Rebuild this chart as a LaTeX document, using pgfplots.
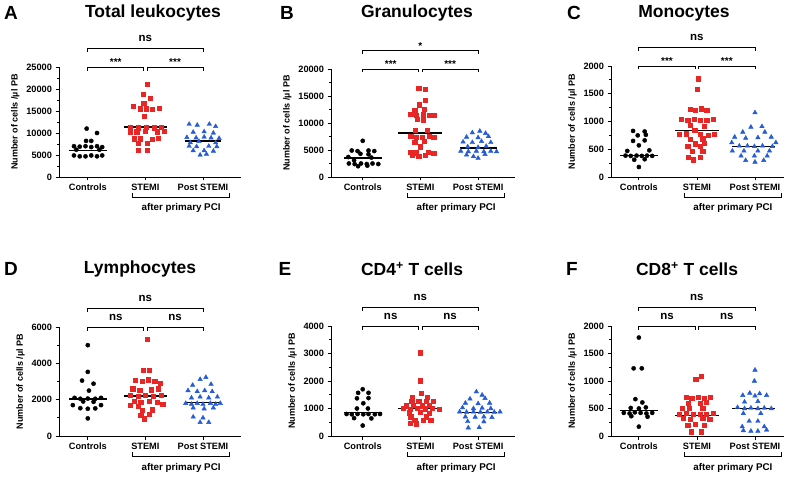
\documentclass[border=0pt]{standalone}
\usepackage{fontspec}
\setmainfont{Liberation Sans}
\usepackage{pgfplots}
\pgfplotsset{compat=1.18}
\definecolor{ptred}{RGB}{232,38,38}
\definecolor{ptblue}{RGB}{38,92,214}

\pgfplotsset{
  panel/.style={
    scale only axis, anchor=south west, clip=false,
    axis lines=left, axis line style={-, line width=0.9pt},
    ymin=0, minor y tick num=1,
    xtick={0,1,2}, xticklabels={Controls,STEMI,Post STEMI},
    tick align=outside, major tick length=3.5pt, minor tick length=2pt,
    every tick/.style={black, line width=0.8pt},
    ticklabel style={font=\fontsize{9.2}{10}\selectfont\bfseries},
    /pgf/number format/assume math mode=true,
    /pgf/number format/set thousands separator={},
    scaled y ticks=false,
    ylabel={Number of cells /µl PB},
    ylabel style={font=\fontsize{9}{10}\selectfont\bfseries},
  },
  ctrl/.style={only marks, mark=*, mark size=2.1pt, black},
  stemi/.style={only marks, mark=square*, mark size=2.1pt, ptred},
  post/.style={only marks, mark=triangle*, mark size=2.6pt, ptblue},
  med/.style={black, line width=1.3pt, no marks},
}
\tikzset{
  nsl/.style={font=\fontsize{11.5}{12}\selectfont\bfseries, yshift=6.5pt},
  astl/.style={font=\fontsize{10}{12}\selectfont\bfseries, yshift=1.5pt},
}
% bracket: x1, x2, y (data), label x, label, label style
\newcommand{\brk}[6]{%
  \draw[line width=0.8pt] ([yshift=-3.5pt]axis cs:#1,#3) -- (axis cs:#1,#3)
    -- (axis cs:#2,#3) -- ([yshift=-3.5pt]axis cs:#2,#3);
  \node[anchor=base, inner sep=0pt, #6] at (axis cs:#4,#3) {#5};}
\newcommand{\pci}{%
  \draw[line width=0.8pt] ([yshift=-16pt]axis cs:0.78,0) -- ([yshift=-20pt]axis cs:0.78,0)
    -- ([yshift=-20pt]axis cs:2.46,0) -- ([yshift=-16pt]axis cs:2.46,0);
  \node[anchor=base, inner sep=0pt, font=\fontsize{9.8}{11}\selectfont\bfseries]
    at ([yshift=-34pt]axis cs:1.62,0) {after primary PCI};}

\begin{document}
\begin{tikzpicture}
\path[use as bounding box] (0pt,0pt) rectangle (787pt,477pt);

% titles and panel letters
\tikzset{ttl/.style={font=\fontsize{17.5}{20}\selectfont\bfseries},
         let/.style={font=\fontsize{19}{20}\selectfont\bfseries}}
\node[let] at (11pt,464pt) {A};  \node[ttl] at (153pt,464pt) {Total leukocytes};
\node[let] at (287pt,464pt) {B}; \node[ttl] at (417pt,464pt) {Granulocytes};
\node[let] at (574pt,464pt) {C}; \node[ttl] at (684pt,464pt) {Monocytes};
\node[let] at (11pt,208pt) {D};  \node[ttl] at (140pt,208pt) {Lymphocytes};
\node[let] at (285pt,208pt) {E}; \node[ttl] at (412pt,208pt) {CD4\textsuperscript{+} T cells};
\node[let] at (572pt,208pt) {F}; \node[ttl] at (687pt,208pt) {CD8\textsuperscript{+} T cells};

% ---------- A
\begin{axis}[panel, at={(59pt,300pt)}, width=182pt, height=110pt,
  xmin=-0.5, xmax=2.66, ymax=25000, ytick={0,5000,...,25000}]
\addplot[ctrl] coordinates {(-0.02,11000) (0.16,10000) (-0.03,8200) (0.06,8200)
 (-0.24,7000) (-0.14,6900) (-0.04,7000) (0.06,6800) (0.16,7000) (0.25,6800)
 (-0.2,6200) (0.2,6200)
 (-0.24,4900) (-0.14,4700) (-0.04,4700) (0.06,4900) (0.16,4700) (0.25,4900)};
\addplot[stemi] coordinates {(1.03,21000) (0.96,18900) (1.08,17900) (0.97,16700)
 (0.79,16000) (0.91,15500) (1.01,15500) (1.12,15400) (1.24,15600)
 (0.98,13800)
 (0.73,11200) (0.88,11200) (1.02,11400) (1.15,11200) (1.28,11300)
 (0.74,10300) (0.85,10300) (1.0,10400) (1.2,10300) (1.32,10400)
 (0.8,8700) (0.91,8700) (1.12,8600) (1.22,8800)
 (0.87,7600) (1.03,7600) (0.87,6100) (1.03,6100)};
\addplot[post] coordinates {(1.76,12000) (1.9,11800) (2.11,12000) (2.22,11500)
 (1.83,10200) (2.02,10300) (2.18,10000)
 (1.72,9000) (1.88,8900) (2.02,9100) (2.14,8900) (2.28,8800)
 (1.78,7800) (1.93,8100) (2.22,7800)
 (1.76,7000) (1.89,6900) (2.1,7000) (2.24,6900)
 (1.83,6000) (2.02,6000) (2.18,5900) (1.95,5000) (2.06,5200)};
\addplot[med] coordinates {(-0.33,6060) (0.33,6060)};
\addplot[med] coordinates {(0.62,11360) (1.38,11360)};
\addplot[med] coordinates {(1.68,8180) (2.32,8180)};
\brk{0}{0.97}{25000}{0.485}{***}{astl}
\brk{1.03}{2}{25000}{1.515}{***}{astl}
\brk{0}{2}{29250}{1}{ns}{nsl}
\pci
\end{axis}

% ---------- B
\begin{axis}[panel, at={(331pt,300pt)}, width=184pt, height=108pt,
  xmin=-0.55, xmax=2.64, ymax=20000, ytick={0,5000,...,20000}]
\addplot[ctrl] coordinates {(0,6700)
 (-0.19,4900) (-0.09,4800) (0.1,4900) (0.2,4800)
 (-0.04,4300) (0.1,4200) (-0.25,3700) (0.15,3600)
 (-0.24,2500) (-0.14,2400) (-0.03,2500) (0.07,2400) (0.17,2500) (0.27,2400)
 (-0.08,2000) (0.08,2100) (-0.15,3100)};
\addplot[stemi] coordinates {(0.97,16400) (1.09,16200) (1.08,14200) (0.98,13400)
 (0.9,12400) (1.06,12500)
 (0.83,11600) (0.93,11500) (1.05,11600) (1.15,11400) (1.23,11500)
 (0.94,10700) (1.05,10600) (0.91,8700) (1.12,8700)
 (0.83,7500) (0.93,7400) (1.03,7300) (1.15,7500) (1.23,7300)
 (0.9,6400) (1.06,6600) (1.0,5600)
 (0.83,4600) (0.93,4500) (1.14,4600) (1.23,4400)
 (0.86,4000) (0.97,3900) (1.09,4000)};
\addplot[post] coordinates {(2.03,8500) (1.9,8200) (2.13,8100)
 (1.8,7400) (2.0,7300) (2.18,7500)
 (1.74,6500) (1.9,6400) (2.06,6600) (2.22,6400)
 (1.82,5600) (2.0,5500) (2.14,5700)
 (1.7,4800) (1.83,4700) (1.97,4800) (2.1,4700) (2.22,4800) (2.32,4700)
 (1.8,4100) (2.12,4200) (2.0,3500) (1.92,3800)};
\addplot[med] coordinates {(-0.33,3530) (0.33,3530)};
\addplot[med] coordinates {(0.62,8170) (1.38,8170)};
\addplot[med] coordinates {(1.68,5385) (2.32,5385)};
\brk{0}{0.97}{20000}{0.485}{***}{astl}
\brk{1.03}{2}{20000}{1.515}{***}{astl}
\brk{0}{2}{23400}{1}{*}{astl}
\pci
\end{axis}

% ---------- C
\begin{axis}[panel, at={(611pt,300pt)}, width=173pt, height=111pt,
  xmin=-0.48, xmax=2.5, ymax=2000, ytick={0,500,...,2000}]
\addplot[ctrl] coordinates {(-0.1,830) (0.1,820) (-0.02,750) (0.12,760)
 (-0.1,650) (0.1,660) (0.0,570) (-0.2,470) (0.18,480)
 (-0.23,385) (-0.14,380) (-0.04,385) (0.05,380) (0.14,385) (0.23,380)
 (-0.08,310) (0.1,320) (0.0,180)};
\addplot[stemi] coordinates {(1.02,1770) (1.01,1580)
 (0.88,1220) (0.97,1200) (1.07,1230) (1.17,1200)
 (0.73,1040) (0.84,1030) (0.95,1040) (1.06,1020) (1.17,1030) (1.28,1040)
 (0.88,930) (1.12,920) (0.96,850)
 (0.7,770) (0.81,780) (1.06,770) (1.2,760) (1.3,770)
 (0.88,680) (1.1,690) (0.97,600) (1.12,610)
 (0.84,550) (1.05,560) (0.92,470) (1.1,470)
 (0.85,360) (1.05,350) (0.93,310)};
\addplot[post] coordinates {(2.0,1160) (1.93,900) (2.12,910) (1.79,810) (2.17,810)
 (1.65,720) (1.84,700) (2.05,710) (2.28,720)
 (1.6,620) (2.36,620)
 (1.73,560) (1.87,560) (1.99,550) (2.13,560) (2.3,550)
 (1.61,470) (1.81,470) (2.05,470) (2.25,470)
 (1.76,380) (1.99,380) (2.21,380)
 (1.84,300) (2.15,300) (2.0,270)};
\addplot[med] coordinates {(-0.33,392) (0.33,392)};
\addplot[med] coordinates {(0.62,843) (1.38,843)};
\addplot[med] coordinates {(1.61,554) (2.34,554)};
\brk{0}{0.97}{2000}{0.485}{***}{astl}
\brk{1.03}{2}{2000}{1.515}{***}{astl}
\brk{0}{2}{2340}{1}{ns}{nsl}
\pci
\end{axis}

% ---------- D
\begin{axis}[panel, at={(59pt,41pt)}, width=182pt, height=109pt,
  xmin=-0.5, xmax=2.66, ymax=6000, ytick={0,2000,...,6000}]
\addplot[ctrl] coordinates {(0.0,5000) (0.0,3530) (-0.1,3050) (0.1,2880) (0.02,2500)
 (-0.23,2100) (-0.13,2050) (0.0,2060) (0.13,2050) (0.23,2100)
 (-0.08,1900) (0.1,1880) (-0.26,1700) (0.23,1700)
 (-0.13,1530) (0.0,1500) (0.13,1520) (0.0,970)};
\addplot[stemi] coordinates {(1.03,5350) (0.96,3630) (1.07,3620)
 (0.82,3050) (0.94,3000) (1.05,3100) (1.16,3000) (1.26,2900)
 (0.78,2600) (0.9,2500) (1.1,2550) (1.22,2600)
 (0.73,2250) (0.87,2200) (1.0,2230) (1.13,2200) (1.28,2250)
 (0.8,1900) (0.92,1850) (1.07,1900) (1.2,1850)
 (0.73,1700) (0.87,1650) (1.3,1750)
 (0.95,1400) (1.12,1450) (0.92,1150) (1.06,1200) (0.98,950)};
\addplot[post] coordinates {(2.05,3230) (1.95,3120) (1.82,2800) (2.14,2850)
 (1.74,2500) (1.9,2450) (2.03,2500) (2.16,2450)
 (1.8,2100) (1.95,2150) (2.1,2100) (2.25,2150)
 (1.7,1800) (1.8,1750) (1.9,1800) (2.0,1750) (2.13,1800) (2.22,1750) (2.3,1800)
 (1.83,1550) (2.02,1500) (2.18,1550)
 (1.83,1050) (2.0,1000) (1.95,750) (2.1,750)};
\addplot[med] coordinates {(-0.33,2030) (0.33,2030)};
\addplot[med] coordinates {(0.62,2195) (1.38,2195)};
\addplot[med] coordinates {(1.68,1830) (2.32,1830)};
\brk{0}{0.97}{6000}{0.485}{ns}{nsl}
\brk{1.03}{2}{6000}{1.515}{ns}{nsl}
\brk{0}{2}{7020}{1}{ns}{nsl}
\pci
\end{axis}

% ---------- E
\begin{axis}[panel, at={(331pt,41pt)}, width=184pt, height=110pt,
  xmin=-0.55, xmax=2.64, ymax=4000, ytick={0,1000,...,4000}]
\addplot[ctrl] coordinates {(0.0,1700) (-0.08,1570) (0.1,1570)
 (-0.1,1370) (0.1,1380) (0.01,1190) (-0.1,1000) (0.09,1000)
 (-0.28,800) (-0.19,790) (-0.09,800) (0.01,790) (0.1,800) (0.21,790) (0.3,800)
 (-0.15,650) (0.15,640) (0.0,380)};
\addplot[stemi] coordinates {(1.0,3030) (1.0,2010) (1.02,1550)
 (0.86,1400) (1.12,1420)
 (0.85,1270) (0.97,1260) (1.1,1280) (1.22,1270)
 (0.75,1100) (0.88,1120) (1.03,1100) (1.15,1120)
 (0.7,1000) (0.82,980) (0.95,1000) (1.08,990) (1.2,1000) (1.32,980)
 (0.8,850) (1.0,860) (1.15,840) (0.83,700) (1.1,700)
 (0.9,580) (1.05,570) (1.18,580) (0.82,460) (0.93,450)};
\addplot[post] coordinates {(1.97,1610) (2.07,1490) (1.86,1350) (2.12,1370)
 (1.78,1200) (2.0,1180) (2.2,1200)
 (1.73,1030) (1.92,1000) (2.07,1020) (2.22,1000)
 (1.68,880) (1.8,870) (1.92,880) (2.04,870) (2.16,880) (2.28,870) (2.38,880)
 (1.78,700) (1.95,690) (2.1,700) (2.24,680)
 (1.82,530) (2.1,520) (1.83,300) (2.02,310)};
\addplot[med] coordinates {(-0.33,848) (0.33,848)};
\addplot[med] coordinates {(0.62,1006) (1.38,1006)};
\addplot[med] coordinates {(1.68,860) (2.32,860)};
\brk{0}{0.97}{4000}{0.485}{ns}{nsl}
\brk{1.03}{2}{4000}{1.515}{ns}{nsl}
\brk{0}{2}{4680}{1}{ns}{nsl}
\pci
\end{axis}

% ---------- F
\begin{axis}[panel, at={(611pt,41pt)}, width=173pt, height=110pt,
  xmin=-0.48, xmax=2.5, ymax=2000, ytick={0,500,...,2000}]
\addplot[ctrl] coordinates {(0.0,1790) (-0.09,1230) (0.05,1230)
 (-0.06,670) (0.06,610) (-0.14,510) (0.0,500) (0.12,520)
 (-0.26,420) (-0.16,410) (-0.07,430) (0.03,420) (0.13,410) (0.23,420)
 (-0.13,360) (0.15,350) (0.0,170)};
\addplot[stemi] coordinates {(1.08,1090) (0.98,1030)
 (0.81,700) (0.91,690) (1.02,700) (1.13,690) (1.23,710)
 (0.85,600) (1.05,600) (1.16,620)
 (0.75,500) (0.87,510) (1.1,500)
 (0.7,400) (0.82,410) (0.94,390) (1.05,400) (1.16,400) (1.28,410)
 (0.76,320) (0.88,310) (1.1,320) (1.22,310)
 (0.84,200) (0.97,210) (1.12,200) (0.9,80) (1.07,80)};
\addplot[post] coordinates {(2.0,1200) (1.99,1000) (1.91,780) (2.08,770)
 (1.79,740) (2.0,730) (2.2,740) (1.82,620) (2.05,630)
 (1.7,520) (1.82,500) (1.93,510) (2.05,500) (2.16,510) (2.28,500)
 (1.8,410) (2.1,410) (1.9,270) (2.05,270)
 (1.78,170) (2.16,170) (1.8,100) (1.93,90) (2.05,90) (2.2,110)};
\addplot[med] coordinates {(-0.33,460) (0.33,460)};
\addplot[med] coordinates {(0.62,370) (1.38,370)};
\addplot[med] coordinates {(1.61,503) (2.34,503)};
\brk{0}{0.97}{2000}{0.485}{ns}{nsl}
\brk{1.03}{2}{2000}{1.515}{ns}{nsl}
\brk{0}{2}{2340}{1}{ns}{nsl}
\pci
\end{axis}
\end{tikzpicture}
\end{document}
